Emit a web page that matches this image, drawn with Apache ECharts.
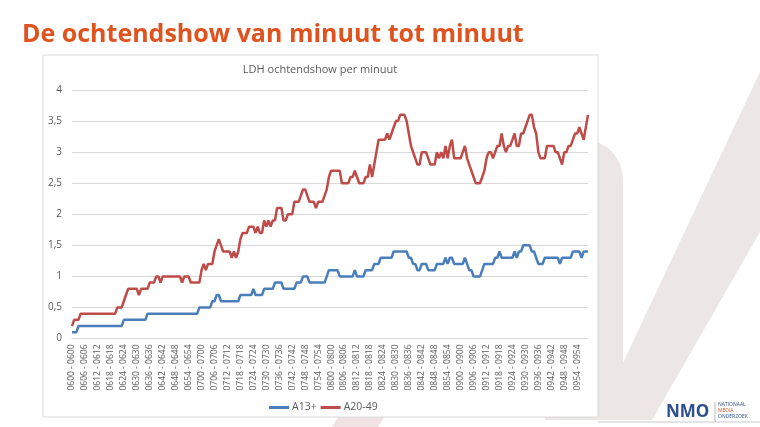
<!DOCTYPE html>
<html>
<head>
<meta charset="utf-8">
<script src="https://cdn.jsdelivr.net/npm/echarts@6/dist/echarts.min.js"></script>
<style>
html,body{margin:0;padding:0;background:#fff;}
#chart{width:760px;height:427px;}
</style>
</head>
<body>
<div id="chart"></div>
<script>
// ---- data ----
var pageTitle = 'De ochtendshow van minuut tot minuut';
var chartTitle = 'LDH ochtendshow per minuut';
var seriesNames = ['A13+', 'A20-49'];
var yTicks = [0, 0.5, 1, 1.5, 2, 2.5, 3, 3.5, 4];

// one category per minute, 06:00 .. 09:59
var categories = [];
for (var h = 6; h <= 9; h++) {
  for (var m = 0; m < 60; m++) {
    var t = '0' + h + (m < 10 ? '0' + m : '' + m);
    categories.push(t + ' - ' + t);
  }
}

var a13 = [
  0.1,0.1,0.1,0.2,0.2,0.2,0.2,0.2,0.2,0.2,
  0.2,0.2,0.2,0.2,0.2,0.2,0.2,0.2,0.2,0.2,
  0.2,0.2,0.2,0.2,0.3,0.3,0.3,0.3,0.3,0.3,
  0.3,0.3,0.3,0.3,0.3,0.4,0.4,0.4,0.4,0.4,
  0.4,0.4,0.4,0.4,0.4,0.4,0.4,0.4,0.4,0.4,
  0.4,0.4,0.4,0.4,0.4,0.4,0.4,0.4,0.4,0.5,
  0.5,0.5,0.5,0.5,0.5,0.6,0.6,0.7,0.7,0.6,
  0.6,0.6,0.6,0.6,0.6,0.6,0.6,0.6,0.7,0.7,
  0.7,0.7,0.7,0.7,0.8,0.7,0.7,0.7,0.7,0.8,
  0.8,0.8,0.8,0.8,0.9,0.9,0.9,0.9,0.8,0.8,
  0.8,0.8,0.8,0.8,0.9,0.9,0.9,1.0,1.0,1.0,
  0.9,0.9,0.9,0.9,0.9,0.9,0.9,0.9,1.0,1.1,
  1.1,1.1,1.1,1.1,1.0,1.0,1.0,1.0,1.0,1.0,
  1.0,1.1,1.0,1.0,1.0,1.0,1.1,1.1,1.1,1.1,
  1.2,1.2,1.2,1.3,1.3,1.3,1.3,1.3,1.3,1.4,
  1.4,1.4,1.4,1.4,1.4,1.4,1.3,1.3,1.2,1.2,
  1.1,1.1,1.2,1.2,1.2,1.1,1.1,1.1,1.1,1.2,
  1.2,1.2,1.2,1.3,1.2,1.3,1.3,1.2,1.2,1.2,
  1.2,1.2,1.3,1.2,1.1,1.1,1.0,1.0,1.0,1.0,
  1.1,1.2,1.2,1.2,1.2,1.2,1.3,1.3,1.4,1.3,
  1.3,1.3,1.3,1.3,1.3,1.4,1.3,1.4,1.4,1.5,
  1.5,1.5,1.5,1.4,1.4,1.3,1.2,1.2,1.2,1.3,
  1.3,1.3,1.3,1.3,1.3,1.3,1.2,1.3,1.3,1.3,
  1.3,1.3,1.4,1.4,1.4,1.4,1.3,1.4,1.4,1.4
];

var a2049 = [
  0.2,0.3,0.3,0.3,0.4,0.4,0.4,0.4,0.4,0.4,
  0.4,0.4,0.4,0.4,0.4,0.4,0.4,0.4,0.4,0.4,
  0.4,0.5,0.5,0.5,0.6,0.7,0.8,0.8,0.8,0.8,
  0.8,0.7,0.8,0.8,0.8,0.8,0.9,0.9,0.9,1.0,
  1.0,0.9,1.0,1.0,1.0,1.0,1.0,1.0,1.0,1.0,
  1.0,0.9,1.0,1.0,1.0,0.9,0.9,0.9,0.9,0.9,
  1.1,1.2,1.1,1.2,1.2,1.2,1.4,1.5,1.6,1.5,
  1.4,1.4,1.4,1.4,1.3,1.4,1.3,1.4,1.6,1.7,
  1.7,1.7,1.8,1.8,1.8,1.7,1.8,1.7,1.7,1.9,
  1.8,1.9,1.8,1.9,1.9,2.1,2.1,2.1,1.9,1.9,
  2.0,2.0,2.0,2.2,2.2,2.2,2.3,2.4,2.4,2.3,
  2.2,2.2,2.2,2.1,2.2,2.2,2.2,2.3,2.4,2.6,
  2.7,2.7,2.7,2.7,2.7,2.5,2.5,2.5,2.5,2.6,
  2.6,2.7,2.6,2.5,2.5,2.5,2.6,2.6,2.8,2.6,
  2.8,3.0,3.2,3.2,3.2,3.2,3.3,3.2,3.3,3.4,
  3.5,3.5,3.6,3.6,3.6,3.5,3.3,3.1,3.0,2.9,
  2.8,2.8,3.0,3.0,3.0,2.9,2.8,2.8,2.8,3.0,
  2.9,3.0,2.9,3.1,2.9,3.1,3.2,2.9,2.9,2.9,
  2.9,3.0,3.1,2.9,2.8,2.7,2.6,2.5,2.5,2.5,
  2.6,2.7,2.9,3.0,3.0,2.9,3.0,3.1,3.1,3.3,
  3.1,3.0,3.1,3.1,3.2,3.3,3.1,3.1,3.3,3.3,
  3.4,3.5,3.6,3.6,3.4,3.3,3.0,2.9,2.9,2.9,
  3.1,3.1,3.1,3.1,3.0,3.0,2.9,2.8,3.0,3.0,
  3.1,3.1,3.2,3.3,3.3,3.4,3.3,3.2,3.4,3.6
];

var colors = ['#4a7ebb', '#be4b48'];
var txt = '#595959';
var grid = '#d9d9d9';
var font = 'Open Sans, Liberation Sans, sans-serif';

var chart = echarts.init(document.getElementById('chart'), null, {renderer: 'canvas'});
chart.setOption({
  backgroundColor: '#ffffff',
  animation: false,
  textStyle: {fontFamily: font},
  graphic: [
    // watermark check mark
    {type: 'rect', z: -30, shape: {x: 545, y: 140, width: 78, height: 280, r: [40, 40, 0, 0]},
     style: {fill: '#ece6e6'}},
    {type: 'polygon', z: -30, shape: {points: [[596, 420], [652, 420], [760, 232], [760, 72]]},
     style: {fill: '#ece6e6'}},
    {type: 'polygon', z: -30, shape: {points: [[332, 427], [378, 427], [384, 417], [338, 417]]},
     style: {fill: '#f1e3e3'}},
    // chart box
    {type: 'rect', z: -20, shape: {x: 43, y: 55, width: 555, height: 362},
     style: {fill: '#ffffff', stroke: '#d9d9d9', lineWidth: 1}},
    // page title
    {type: 'text', z: 10, left: 22, top: 22,
     style: {text: pageTitle, fill: '#e0531f', font: 'bold 25px Open Sans, sans-serif'}},
    // chart title
    {type: 'text', z: 10, x: 320, y: 70,
     style: {text: chartTitle, fill: txt, font: '11px Open Sans, sans-serif', textAlign: 'center', textVerticalAlign: 'middle'}},
    // logo
    {type: 'text', z: 10, x: 666, y: 412,
     style: {text: 'NMO', fill: '#2e4f8f', font: 'bold 17px Open Sans, sans-serif', textVerticalAlign: 'middle'}},
    {type: 'line', z: 10, shape: {x1: 715, y1: 402, x2: 715, y2: 422}, style: {stroke: '#999', lineWidth: 0.7}},
    {type: 'text', z: 10, x: 718, y: 405,
     style: {text: 'NATIONAAL', fill: '#2e4f8f', font: '5px Open Sans, sans-serif', textVerticalAlign: 'middle'}},
    {type: 'text', z: 10, x: 718, y: 411,
     style: {text: 'MEDIA', fill: '#d9532b', font: '5px Open Sans, sans-serif', textVerticalAlign: 'middle'}},
    {type: 'text', z: 10, x: 718, y: 417,
     style: {text: 'ONDERZOEK', fill: '#2e4f8f', font: '5px Open Sans, sans-serif', textVerticalAlign: 'middle'}},
    {type: 'line', z: 10, shape: {x1: 598, y1: 422, x2: 760, y2: 422}, style: {stroke: '#c8c8c8', lineWidth: 1}}
  ],
  grid: {left: 72, right: 172, top: 90, bottom: 88.5, containLabel: false},
  legend: {
    data: seriesNames, left: 264, top: 397, itemWidth: 20, itemHeight: 3, itemGap: 4,
    icon: 'rect', textStyle: {color: txt, fontSize: 10.5, fontFamily: font, padding: [0, 0, 0, -2]}
  },
  xAxis: {
    type: 'category', data: categories, boundaryGap: false,
    axisLine: {lineStyle: {color: grid, width: 1}},
    axisTick: {show: false},
    axisLabel: {interval: 5, rotate: 90, fontSize: 8.5, color: txt, margin: 6, fontFamily: font},
    splitLine: {show: false}
  },
  yAxis: {
    type: 'value', min: yTicks[0], max: yTicks[yTicks.length - 1], interval: 0.5,
    axisLine: {show: false}, axisTick: {show: false},
    axisLabel: {color: txt, fontSize: 10, margin: 10, fontFamily: font,
      formatter: function (v) { return String(v).replace('.', ','); }},
    splitLine: {lineStyle: {color: grid, width: 1}}
  },
  series: [
    {name: seriesNames[0], type: 'line', data: a13, symbol: 'none', color: colors[0],
     lineStyle: {width: 2.5, color: colors[0]}, z: 3},
    {name: seriesNames[1], type: 'line', data: a2049, symbol: 'none', color: colors[1],
     lineStyle: {width: 2.5, color: colors[1]}, z: 4}
  ]
});
</script>
</body>
</html>
